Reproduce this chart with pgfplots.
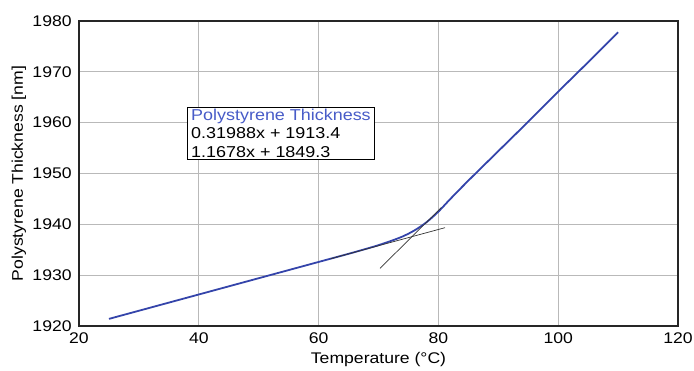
\documentclass[border=0pt]{standalone}
\usepackage{pgfplots}
\pgfplotsset{compat=1.18}
\usepackage{fontspec}
\setmainfont{Liberation Sans}[FakeStretch=1.14]
\definecolor{curveblue}{RGB}{52,68,170}
\definecolor{titleblue}{RGB}{72,92,200}
\definecolor{gridgray}{RGB}{185,185,185}
\begin{document}
\fontsize{15.5}{18}\selectfont
\begin{tikzpicture}
\begin{axis}[
  at={(0,0)}, anchor=south west,
  scale only axis,
  width=599bp, height=305bp,
  xmin=20, xmax=120, ymin=1920, ymax=1980,
  xtick={20,40,...,120},
  ytick={1920,1930,...,1980},
  grid=major,
  major grid style={gridgray, line width=0.8pt},
  major tick length=0pt,
  axis line style={black!85, line width=1.4pt},
  /pgf/number format/assume math mode=true,
  /pgf/number format/1000 sep={},
  tick label style={font=\fontsize{15.5}{18}\selectfont},
  label style={font=\fontsize{15.5}{18}\selectfont},
  xticklabel style={yshift=-1bp},
  yticklabel style={xshift=-2bp},
  xlabel={Temperature (°C)},
  ylabel={Polystyrene Thickness [nm]},
  xlabel style={yshift=1bp},
  ylabel style={yshift=-4bp},
  clip=false,
]
% measured film thickness
\addplot[curveblue, line width=1.8pt, smooth, tension=0.5] coordinates {
  (25,1921.4) (30,1923.0) (35,1924.6) (40,1926.2) (45,1927.8)
  (50,1929.4) (55,1931.0) (60,1932.6) (65,1934.2) (68,1935.2)
  (70,1935.9) (72,1936.7) (74,1937.6) (76,1938.8) (78,1940.4)
  (80,1942.5) (82,1945.0) (85,1948.6) (90,1954.4) (95,1960.2)
  (100,1966.1) (105,1971.9) (110,1977.8)
};
% glassy-region fit: 0.31988x + 1913.4
\addplot[black!80, line width=0.7pt] coordinates {(62,1933.23) (81.1,1939.34)};
% rubbery-region fit: 1.1678x + 1849.3
\addplot[black!80, line width=0.7pt] coordinates {(70.25,1931.34) (80.5,1943.31)};
\node[draw=black, line width=0.8pt, fill=white, anchor=north west,
      align=left, inner xsep=4bp, inner ysep=2bp,
      font=\fontsize{15.8}{18.3}\selectfont]
  at (axis cs:38,1963.1)
  {\textcolor{titleblue}{Polystyrene Thickness}\\0.31988x + 1913.4\\1.1678x + 1849.3};
\end{axis}
\pgfresetboundingbox
\path[use as bounding box] (-79bp,-45bp) rectangle (615bp,326bp);
\end{tikzpicture}
\end{document}
